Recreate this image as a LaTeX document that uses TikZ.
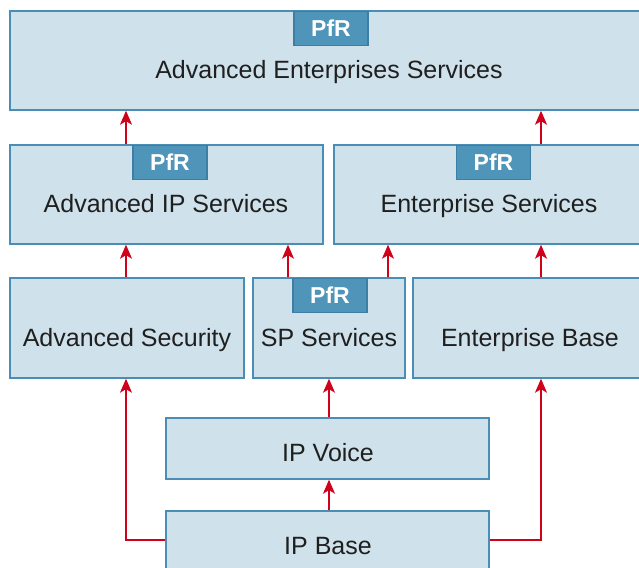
\documentclass[tikz,border=0pt]{standalone}
\usepackage{fontspec}
\setmainfont{Liberation Sans}
\usetikzlibrary{arrows.meta}
\definecolor{boxfill}{HTML}{CFE1EA}
\definecolor{boxline}{HTML}{4A8DB5}
\definecolor{tabfill}{HTML}{4F95BA}
\definecolor{tabline}{HTML}{3D7EA6}
\definecolor{arrred}{HTML}{D0021B}
\tikzset{
  box/.style={draw=boxline, fill=boxfill, line width=1.4pt, rectangle, inner sep=0pt},
  tab/.style={draw=tabline, fill=tabfill, line width=1.2pt, rectangle, inner sep=0pt,
    minimum width=74pt, minimum height=34pt, text=white,
    font=\fontsize{23}{26}\selectfont\bfseries},
  lbl/.style={inner sep=0pt, anchor=base, font=\fontsize{25}{28}\selectfont, text=black!88},
  arr/.style={draw=arrred, line width=1.4pt, -{Stealth[length=14pt,width=12pt,inset=3.5pt]}},
}
\begin{document}
\begin{tikzpicture}[x=1pt,y=-1pt]
\useasboundingbox (0,0) rectangle (639,567);
\clip (0,0) rectangle (639,567);
% boxes
\node[box, minimum width=640pt, minimum height=99pt] (aes) at (330,60.5) {};
\node[box, minimum width=313pt, minimum height=99pt] (aip) at (166.5,194.5) {};
\node[box, minimum width=320pt, minimum height=99pt] (es) at (494,194.5) {};
\node[box, minimum width=234pt, minimum height=100pt] (as) at (127,328) {};
\node[box, minimum width=152pt, minimum height=100pt] (sp) at (329,328) {};
\node[box, minimum width=240pt, minimum height=100pt] (eb) at (533,328) {};
\node[box, minimum width=323pt, minimum height=61pt] (ipv) at (327.5,448.5) {};
\node[box, minimum width=323pt, minimum height=80pt] (ipb) at (327.5,551) {};
% tabs
\node[tab, anchor=north] (t1) at (331,11) {PfR};
\node[tab, anchor=north] (t2) at (170,145) {PfR};
\node[tab, anchor=north] (t3) at (493.5,145) {PfR};
\node[tab, anchor=north] (t4) at (330,278) {PfR};
% labels
\node[lbl] (laes) at (329,78.5) {Advanced Enterprises Services};
\node[lbl] (laip) at (166,212) {Advanced IP Services};
\node[lbl] (les) at (489,212) {Enterprise Services};
\node[lbl] (las) at (127,346) {Advanced Security};
\node[lbl] (lsp) at (329,346) {SP Services};
\node[lbl] (leb) at (530,346) {Enterprise Base};
\node[lbl] (lipv) at (328,461) {IP Voice};
\node[lbl] (lipb) at (328,554) {IP Base};
% x positions
\coordinate (xa) at (126,0);
\coordinate (xb) at (541,0);
\coordinate (xc) at (288,0);
\coordinate (xd) at (388,0);
\coordinate (xe) at (329,0);
\coordinate (yb) at (0,540);
% arrows
\draw[arr] (aip.north -| xa) -- (aes.south -| xa);
\draw[arr] (es.north -| xb) -- (aes.south -| xb);
\draw[arr] (as.north -| xa) -- (aip.south -| xa);
\draw[arr] (sp.north -| xc) -- (aip.south -| xc);
\draw[arr] (sp.north -| xd) -- (es.south -| xd);
\draw[arr] (eb.north -| xb) -- (es.south -| xb);
\draw[arr] (ipv.north -| xe) -- (sp.south -| xe);
\draw[arr] (ipb.north -| xe) -- (ipv.south -| xe);
\draw[arr] (ipb.west |- yb) -| (as.south -| xa);
\draw[arr] (ipb.east |- yb) -| (eb.south -| xb);
\end{tikzpicture}
\end{document}
